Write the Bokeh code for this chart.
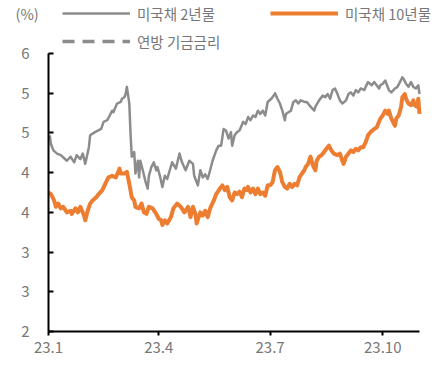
import pandas as pd
from bokeh.plotting import figure
from bokeh.models import Range1d, FixedTicker, Legend, LegendItem, Label, ColumnDataSource
from bokeh.embed import file_html
from bokeh.resources import INLINE

# ---------------- data ----------------
two_y_dates = ["01-02","01-03","01-05","01-08","01-11","01-16","01-19","01-22","01-24","01-27","01-29","01-31",
 "02-03","02-04","02-08","02-13","02-15","02-18","02-20","02-22","02-23","02-26",
 "03-01","03-02","03-04","03-05","03-06","03-08","03-09","03-10","03-12","03-13","03-15","03-16","03-17","03-19",
 "03-21","03-23","03-24","03-26","03-28","03-30","03-31",
 "04-02","04-04","04-06","04-08","04-10","04-12","04-15","04-18","04-20","04-23","04-26","04-29","04-30",
 "05-03","05-05","05-07","05-09","05-11","05-13","05-15","05-18","05-20","05-22","05-24","05-26","05-28","05-30","05-31",
 "06-02","06-04","06-06","06-09","06-11","06-13","06-15","06-17","06-19","06-21","06-23","06-25","06-27","06-29",
 "07-02","07-04","07-05","07-07","07-09","07-11","07-13","07-14","07-16","07-18","07-20","07-22","07-24","07-26","07-29","07-31",
 "08-03","08-06","08-07","08-10","08-13","08-15","08-17","08-19","08-21","08-23","08-25","08-27","08-29",
 "09-01","09-03","09-05","09-07","09-09","09-11","09-13","09-16","09-17","09-19","09-22","09-24","09-26","09-28","09-29",
 "10-01","10-03","10-05","10-06","10-08","10-11","10-13","10-15","10-17","10-18","10-20","10-22","10-24","10-26","10-28","10-30","10-31"]
two_y = [4.47,4.36,4.28,4.24,4.22,4.15,4.20,4.13,4.22,4.17,4.24,4.11,
 4.32,4.47,4.51,4.55,4.64,4.66,4.72,4.78,4.76,4.87,
 4.89,4.93,4.95,4.99,5.08,4.87,4.49,4.20,4.26,3.99,4.15,3.94,4.15,4.03,
 3.90,3.80,3.96,4.07,4.13,4.03,4.07,
 3.96,3.82,3.96,3.92,4.03,4.13,4.05,4.24,4.13,4.03,4.15,4.11,3.96,
 3.84,4.03,3.94,3.98,3.92,4.03,4.15,4.28,4.34,4.34,4.55,4.53,4.43,4.51,4.34,
 4.47,4.51,4.53,4.64,4.61,4.70,4.66,4.72,4.70,4.78,4.74,4.78,4.72,4.89,
 4.93,4.97,5.00,4.93,4.87,4.78,4.66,4.74,4.76,4.78,4.89,4.91,4.87,4.91,4.89,4.89,
 4.83,4.78,4.83,4.91,4.97,4.95,4.99,4.93,5.04,5.06,4.99,4.91,4.87,
 4.91,4.99,5.01,4.97,5.04,5.01,5.06,5.04,5.08,5.14,5.10,5.14,5.10,5.06,5.10,
 5.12,5.16,5.08,5.04,5.01,5.06,5.08,5.14,5.20,5.18,5.12,5.08,5.14,5.08,5.06,5.10,4.99]

ten_y_dates = ["01-01","01-03","01-05","01-06","01-07","01-09","01-11","01-13","01-16","01-19","01-20","01-23","01-25","01-27","01-30","01-31",
 "02-02","02-04","02-06","02-09","02-11","02-14","02-17","02-19","02-22","02-25","02-28",
 "03-01","03-04","03-06","03-08","03-10","03-12","03-13","03-16","03-18","03-20","03-22","03-24","03-27","03-30",
 "04-01","04-03","04-04","04-06","04-08","04-11","04-13","04-16","04-19","04-22","04-25","04-27","04-29",
 "05-01","05-02","05-05","05-07","05-09","05-11","05-13","05-16","05-18","05-21","05-23","05-25","05-27","05-29","05-31",
 "06-02","06-04","06-06","06-08","06-10","06-12","06-13","06-15","06-17","06-19","06-21","06-23","06-25","06-27","06-29",
 "07-01","07-03","07-05","07-07","07-09","07-11","07-13","07-15","07-17","07-19","07-21","07-23","07-25","07-27","07-29","07-30",
 "08-01","08-03","08-05","08-07","08-08","08-10","08-12","08-14","08-16","08-18","08-20","08-22","08-25","08-27","08-29","08-30",
 "09-01","09-03","09-05","09-07","09-09","09-11","09-13","09-15","09-17","09-19","09-21","09-24","09-26","09-28","09-29",
 "10-01","10-03","10-05","10-06","10-08","10-11","10-12","10-14","10-16","10-17","10-19","10-20","10-22","10-24","10-26","10-27","10-29","10-30","10-31"]
ten_y = [3.75,3.73,3.67,3.63,3.57,3.61,3.55,3.57,3.50,3.52,3.48,3.55,3.50,3.57,3.46,3.40,
 3.52,3.61,3.65,3.69,3.73,3.78,3.88,3.94,3.96,3.94,4.05,
 3.99,3.99,4.01,3.86,3.69,3.65,3.57,3.55,3.61,3.50,3.48,3.57,3.55,3.48,
 3.42,3.40,3.34,3.40,3.36,3.44,3.55,3.61,3.57,3.50,3.57,3.44,3.57,
 3.48,3.36,3.50,3.46,3.52,3.44,3.55,3.65,3.73,3.80,3.84,3.78,3.82,3.69,3.65,
 3.75,3.73,3.76,3.69,3.80,3.78,3.82,3.75,3.80,3.73,3.80,3.73,3.75,3.71,3.84,
 3.84,3.88,4.03,4.07,4.01,3.88,3.82,3.80,3.86,3.82,3.86,3.84,3.94,3.99,4.03,4.07,
 4.11,4.20,4.09,4.03,4.15,4.20,4.22,4.26,4.30,4.34,4.28,4.24,4.22,4.24,4.15,4.11,
 4.20,4.24,4.28,4.26,4.30,4.28,4.32,4.32,4.38,4.47,4.51,4.55,4.57,4.64,4.68,
 4.72,4.78,4.74,4.78,4.68,4.59,4.68,4.72,4.83,4.95,4.99,4.93,4.87,4.85,4.91,4.85,4.83,4.93,4.74]

# 연방 기금금리: appears in the legend only, no values plotted
fed_dates = ["01-01"]
fed_rate = [float("nan")]

x_tick_dates = ["2023-01-01", "2023-04-01", "2023-07-01", "2023-10-01"]
x_tick_labels = ["23.1", "23.4", "23.7", "23.10"]
y_ticks = [2.0, 2.5, 3.0, 3.5, 4.0, 4.5, 5.0, 5.5]
y_tick_labels = ["2", "3", "3", "4", "4", "5", "5", "6"]
x_start, x_end = "2023-01-01", "2023-10-31"
y_min, y_max = 2.0, 5.5

# ---------------- layout constants (pixels) ----------------
W, H = 440, 366
AX_L, AX_R = 48, 419        # x axis extent on the canvas
AX_T, AX_B = 53, 331        # y axis extent on the canvas

origin = pd.Timestamp(x_start)
n_days = (pd.Timestamp(x_end) - origin).days
ppd = (AX_R - AX_L) / n_days
ppu = (AX_B - AX_T) / (y_max - y_min)
x_lo = -AX_L / ppd
x_hi = n_days + (W - AX_R) / ppd
y_top = y_max + AX_T / ppu
y_lo = y_min - (H - AX_B) / ppu

def to_day(ds):
    return [(pd.Timestamp("2023-" + d) - origin).days for d in ds]

FONT = "Noto Sans CJK KR"
GREY = "#8c8c8c"
ORANGE = "#ED7D31"
TXT = "#777777"

p = figure(width=W, height=H, output_backend="svg", toolbar_location=None,
           x_range=Range1d(x_lo, x_hi), y_range=Range1d(y_lo, y_top),
           min_border=0)
p.outline_line_color = None
p.xgrid.visible = False
p.ygrid.visible = False
p.background_fill_color = "white"
p.border_fill_color = "white"

src2 = ColumnDataSource(dict(x=to_day(two_y_dates), y=two_y))
src10 = ColumnDataSource(dict(x=to_day(ten_y_dates), y=ten_y))
srcff = ColumnDataSource(dict(x=to_day(fed_dates), y=fed_rate))

r2 = p.line("x", "y", source=src2, line_color=GREY, line_width=2.5, line_join="round")
r10 = p.line("x", "y", source=src10, line_color=ORANGE, line_width=4, line_join="round")
rff = p.line("x", "y", source=srcff, line_color=GREY, line_width=3.5, line_dash="12 8")

# axes (drawn at fixed data locations so the frame can cover the whole canvas)
xa = p.xaxis[0]
xa.fixed_location = y_min
xa.bounds = (0, n_days)
xt = [(pd.Timestamp(d) - origin).days for d in x_tick_dates]
xa.ticker = FixedTicker(ticks=xt)
xa.major_label_overrides = {t: l for t, l in zip(xt, x_tick_labels)}
xa.minor_tick_line_color = None
xa.major_tick_in = 0
xa.major_tick_out = 4
xa.major_tick_line_width = 2
xa.axis_line_width = 2
xa.axis_line_color = "black"
xa.major_tick_line_color = "black"
xa.major_label_standoff = 6
xa.major_label_text_font = FONT
xa.major_label_text_font_size = "15px"
xa.major_label_text_color = TXT

ya = p.yaxis[0]
ya.fixed_location = 0
ya.bounds = (y_min, y_max)
ya.ticker = FixedTicker(ticks=y_ticks)
ya.major_label_overrides = {t: l for t, l in zip(y_ticks, y_tick_labels)}
ya.minor_tick_line_color = None
ya.major_tick_in = 5
ya.major_tick_out = 0
ya.major_tick_line_width = 2
ya.axis_line_width = 2
ya.axis_line_color = "black"
ya.major_tick_line_color = "black"
ya.major_label_standoff = 19
ya.major_label_text_font = FONT
ya.major_label_text_font_size = "15px"
ya.major_label_text_color = TXT

# legends (inside the frame's top strip)
ROW_H = 22
def mk_legend(label, r, x, yc):
    lg = Legend(items=[LegendItem(label=label, renderers=[r])], location=(x, H - yc - ROW_H / 2),
                orientation="horizontal", glyph_width=68, glyph_height=ROW_H, label_standoff=7,
                label_text_font=FONT, label_text_font_size="14.5px", label_text_color=TXT,
                label_height=ROW_H, padding=0, margin=0, spacing=0,
                border_line_alpha=0, background_fill_alpha=0)
    p.add_layout(lg, "center")

mk_legend("미국채 2년물", r2, 62, 13)
mk_legend("미국채 10년물", r10, 270, 13)
mk_legend("연방 기금금리", rff, 62, 41)

p.add_layout(Label(x=15, y=H - 13, x_units="screen", y_units="screen", text="(%)",
                   text_baseline="middle", text_font=FONT, text_font_size="14.5px", text_color=TXT))

open("out.html", "w").write(file_html(p, INLINE))
